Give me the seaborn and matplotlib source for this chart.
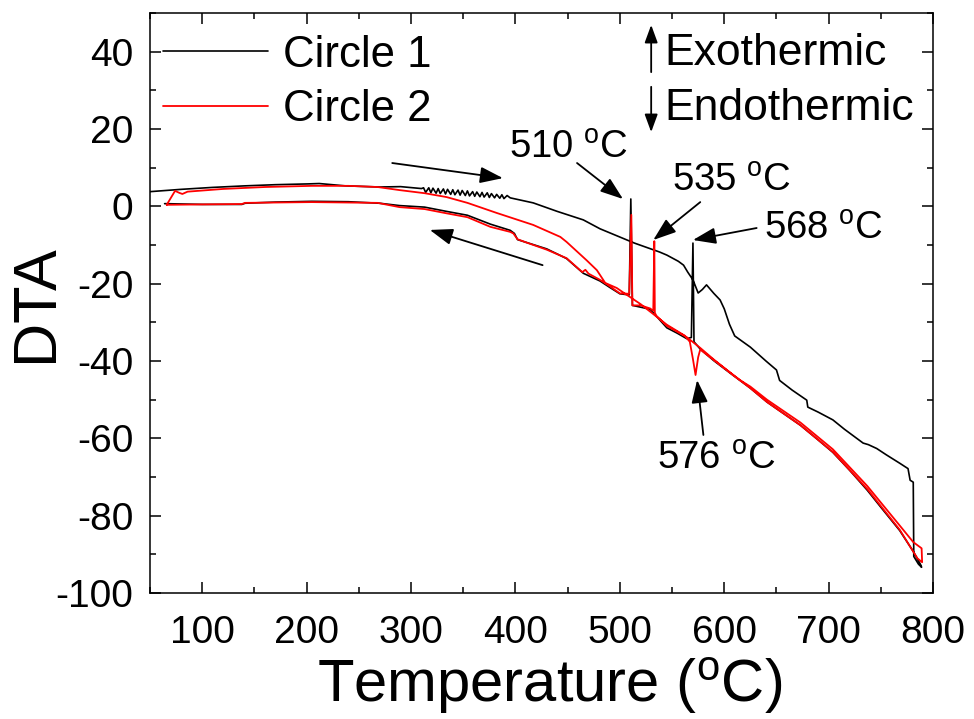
import numpy as np
import pandas as pd
import matplotlib
matplotlib.use("Agg")
import matplotlib.pyplot as plt
from matplotlib.ticker import MultipleLocator
import seaborn as sns

# Circle 1 (black): heating along the upper branch, then cooling back along the lower one
c1_temp = [50, 80, 110, 141, 170, 201, 212, 237, 270, 290, 310,
           312, 314, 317, 319, 321, 324, 326, 328, 331, 333, 335, 338, 340, 342, 345, 347,
           349, 352, 354, 356, 359, 361, 363, 366, 368, 370, 373, 375, 377, 380, 382, 385,
           387, 389, 392, 395,
           417, 440, 465, 481, 507, 514, 538, 545, 556, 561, 565, 570, 575, 579, 583, 590,
           596, 600, 605, 610, 625, 640, 650, 653, 665, 679, 680, 690, 704, 715, 733, 738,
           746, 755, 768, 776, 778, 781, 781.5, 786, 789,
           788, 781, 768, 750, 737, 720, 704, 690, 673, 657, 641, 625, 608, 590, 577, 571,
           570, 568.5, 564, 555, 545, 529, 512, 510.5, 509, 500, 490, 481, 465, 449, 430,
           410, 402, 399, 395, 376, 354, 334, 313, 289, 270, 240, 205, 170, 141, 138, 100, 64]
c1_dta = [3.8, 4.4, 4.9, 5.3, 5.6, 5.8, 5.9, 5.3, 5.0, 5.1, 4.6,
          4.8, 3.6, 4.8, 3.5, 4.7, 3.4, 4.6, 3.3, 4.5, 3.2, 4.4, 3.1, 4.3, 3.0, 4.2, 2.9,
          4.1, 2.8, 4.0, 2.7, 3.8, 2.6, 3.7, 2.5, 3.6, 2.4, 3.5, 2.3, 3.3, 2.2, 3.1, 2.1,
          3.0, 2.0, 2.8, 2.2,
          0.9, -1.3, -3.5, -5.8, -8.7, -9.5, -11.8, -12.6, -14.2, -15.2, -17.0, -19.0, -22.4,
          -21.5, -20.3, -22.5, -24.2, -26.5, -30.5, -33.5, -36.4, -40.0, -42.3, -45.0, -47.5,
          -50.1, -51.9, -53.2, -55.2, -57.6, -61.2, -61.6, -62.6, -64.2, -66.4, -67.8, -70.8,
          -71.3, -90.5, -92.5, -93.3,
          -92.6, -89.2, -83.8, -77.8, -73.4, -68.2, -63.6, -60.4, -56.6, -53.6, -50.6, -47.0,
          -43.6, -39.9, -36.9, -35.0, -9.5, -33.9, -34.2, -32.8, -31.4, -26.6, -25.6, 1.9,
          -22.9, -22.6, -20.9, -19.3, -17.3, -13.5, -11.0, -9.3, -8.6, -7.0, -6.2, -4.6,
          -2.3, -1.3, -0.2, 0.2, 0.8, 1.2, 1.3, 1.1, 0.8, 0.5, 0.5, 0.7]

# Circle 2 (red)
c2_temp = [66, 74, 78, 81, 86, 120, 160, 205, 240, 268, 289, 313, 334, 354, 382, 417, 443,
           449, 468, 478, 486, 497, 504, 520, 545, 562, 567, 570, 572.5, 575, 577, 583, 600,
           615, 625, 641, 673, 704, 737, 768, 781, 789, 789.5,
           785, 768, 737, 704, 673, 641, 625, 608, 590, 577, 564, 545, 535, 533.5, 533, 532,
           529, 520, 512, 511, 509, 500, 490, 481, 470, 467, 464, 449, 430, 410, 402, 398,
           395, 376, 354, 334, 313, 289, 268, 205, 141, 138, 100, 66]
c2_dta = [0.4, 4.0, 3.5, 3.2, 3.8, 4.5, 5.0, 5.3, 5.3, 5.0, 4.2, 3.4, 2.4, 0.9, -1.7, -4.8,
          -7.9, -9.2, -13.9, -16.5, -19.8, -21.1, -22.4, -25.3, -30.6, -33.4, -35.0, -39.5,
          -43.6, -39.0, -37.0, -38.3, -41.8, -44.9, -46.6, -50.0, -55.9, -62.8, -72.3, -82.5,
          -86.8, -88.4, -92.0,
          -91.0, -83.6, -73.1, -63.5, -56.6, -50.6, -47.0, -43.5, -39.6, -36.6, -33.8, -30.9,
          -28.3, -27.5, -9.0, -27.0, -26.4, -25.6, -25.6, -2.2, -22.6, -22.5, -20.6, -19.0,
          -17.4, -16.4, -17.0, -13.4, -11.2, -9.3, -8.5, -7.0, -6.6, -5.3, -2.8, -1.8, -0.7,
          -0.2, 0.9, 1.1, 0.9, 0.6, 0.5, 0.4]

c1 = pd.DataFrame({"T": c1_temp, "DTA": c1_dta})
c2 = pd.DataFrame({"T": c2_temp, "DTA": c2_dta})

sns.set_theme(style="ticks")
plt.rcParams["font.family"] = ["Liberation Sans", "DejaVu Sans"]
plt.rcParams["mathtext.fontset"] = "custom"
plt.rcParams["mathtext.rm"] = "Liberation Sans"
plt.rcParams["mathtext.it"] = "Liberation Sans:italic"
plt.rcParams["axes.unicode_minus"] = False
for key in ["text.color", "axes.labelcolor", "xtick.color", "ytick.color", "axes.edgecolor"]:
    plt.rcParams[key] = "black"

fig = plt.figure(figsize=(9.74, 7.19), dpi=100)
ax = fig.add_axes([0.154, 0.175, 0.804, 0.807])

sns.lineplot(data=c1, x="T", y="DTA", sort=False, estimator=None, color="black",
             lw=1.2, label="Circle 1", ax=ax)
sns.lineplot(data=c2, x="T", y="DTA", sort=False, estimator=None, color="#ff0000",
             lw=1.3, label="Circle 2", ax=ax)

ax.set_xlim(50, 800)
ax.set_ylim(-100, 50)
ax.xaxis.set_major_locator(MultipleLocator(100))
ax.xaxis.set_minor_locator(MultipleLocator(50))
ax.yaxis.set_major_locator(MultipleLocator(20))
ax.yaxis.set_minor_locator(MultipleLocator(10))
ax.tick_params(which="both", direction="in", top=True, right=True, width=1.1, color="black")
ax.tick_params(which="major", length=8)
ax.tick_params(which="minor", length=4)
ax.tick_params(axis="x", which="major", labelsize=28, pad=16)
ax.tick_params(axis="y", which="major", labelsize=28, pad=12)
for s in ax.spines.values():
    s.set_linewidth(1.1)
    s.set_color("black")

ax.set_xlabel(r"Temperature ($^\mathrm{o}$C)", fontsize=43)
ax.set_ylabel("DTA", fontsize=44)
ax.xaxis.set_label_coords(0.51, -0.108)
ax.yaxis.set_label_coords(-0.108, 0.5)

ax.legend(loc="upper left", bbox_to_anchor=(0.0, 0.985), frameon=False, fontsize=31.5,
          handlelength=2.4, handletextpad=0.35, labelspacing=0.3, borderpad=0.3,
          borderaxespad=0.0)

big = dict(arrowstyle="-|>,head_length=0.7,head_width=0.25", color="black", lw=1.3,
           shrinkA=0, shrinkB=0, mutation_scale=20)
small = dict(arrowstyle="-|>,head_length=0.6,head_width=0.22", color="black", lw=1.3,
             shrinkA=0, shrinkB=0, mutation_scale=18)

# heating / cooling direction
ax.annotate("", xy=(388, 7.3), xytext=(282, 11.2), arrowprops=big)
ax.annotate("", xy=(318, -6.1), xytext=(426, -15.2), arrowprops=big)

# peak labels
ax.annotate("", xy=(503, 1.9), xytext=(459, 11.2), arrowprops=big)
ax.text(451, 15.2, r"510 $^\mathrm{o}$C", fontsize=27.5, ha="center", va="center")
ax.annotate("", xy=(532, -8.7), xytext=(577, 1.1), arrowprops=big)
ax.text(607, 6.6, r"535 $^\mathrm{o}$C", fontsize=27.5, ha="center", va="center")
ax.annotate("", xy=(570, -8.7), xytext=(631, -5.6), arrowprops=big)
ax.text(695, -5.8, r"568 $^\mathrm{o}$C", fontsize=27.5, ha="center", va="center")
ax.annotate("", xy=(574, -44.9), xytext=(580, -59.1), arrowprops=big)
ax.text(592, -65.3, r"576 $^\mathrm{o}$C", fontsize=27.5, ha="center", va="center")

# exo / endo indicator
ax.annotate("", xy=(530, 46.9), xytext=(530, 34.7), arrowprops=small)
ax.annotate("", xy=(530, 19.2), xytext=(530, 30.9), arrowprops=small)
ax.text(543, 39.4, "Exothermic", fontsize=32, ha="left", va="center")
ax.text(543, 25.2, "Endothermic", fontsize=32, ha="left", va="center")

plt.savefig("out.png", dpi=100)
